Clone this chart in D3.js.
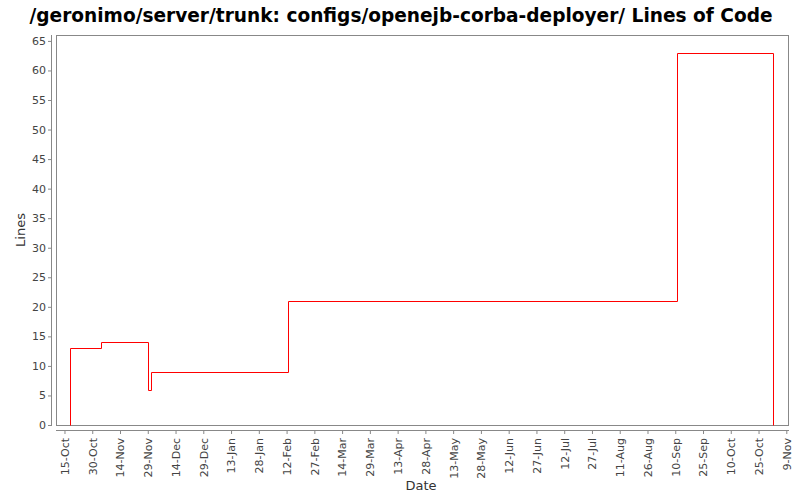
<!DOCTYPE html>
<html><head><meta charset="utf-8">
<script src="https://cdn.jsdelivr.net/npm/d3@7/dist/d3.min.js"></script>
<style>body{margin:0;background:#fff}svg{display:block}</style>
</head><body>
<svg id="c" width="800" height="500"></svg>
<script>
const title = "/geronimo/server/trunk: configs/openejb-corba-deployer/ Lines of Code";
const dates = ["2005-10-18","2005-11-04","2005-11-29","2005-12-01","2006-02-13","2006-09-11","2006-11-02"];
const lines = [13,14,6,9,21,63,0];
const yTicks = [0,5,10,15,20,25,30,35,40,45,50,55,60,65];
const xTickStart = "2005-10-15", xTickEnd = "2006-11-09", xTickStepDays = 15;

const parse = d3.timeParse("%Y-%m-%d");
const svg = d3.select("#c");
const L = 56, R = 788, T = 35, B = 425;
const x = d3.scaleTime().domain([new Date(2005,9,10,10), new Date(2006,10,9,22)]).range([L, R]);
const y = d3.scaleLinear().domain([0, 66]).range([B, T]);

svg.append("text").attr("x", 401).attr("y", 22).attr("text-anchor","middle")
  .attr("font-family","'DejaVu Sans Condensed','DejaVu Sans',sans-serif").attr("font-weight","bold")
  .attr("font-size", 20).attr("textLength", 743).attr("lengthAdjust","spacingAndGlyphs")
  .attr("fill","#000").text(title);

svg.append("rect").attr("x", L+0.5).attr("y", T+0.5).attr("width", R-L).attr("height", B-T)
  .attr("fill","#fff").attr("stroke","#888").attr("stroke-width",1);

const xTicks = d3.timeDay.every(1).range(parse(xTickStart), d3.timeDay.offset(parse(xTickEnd),1))
  .filter((d,i)=> i % xTickStepDays === 0);

const xAxis = d3.axisBottom(x).tickValues(xTicks).tickFormat(d3.timeFormat("%-d-%b")).tickSize(4).tickSizeOuter(0);
const gx = svg.append("g").attr("transform", `translate(0,${B+5})`).call(xAxis);
gx.select(".domain").attr("stroke","#888").attr("d", `M${L},0.5H${R+1}`);
gx.selectAll(".tick line").attr("stroke","#888");
gx.selectAll(".tick text").attr("font-family","'DejaVu Sans',sans-serif").attr("font-size",11).attr("fill","#444")
  .attr("transform","rotate(-90)").attr("text-anchor","end").attr("x",-8).attr("y",0).attr("dy","0.35em");

const yAxis = d3.axisLeft(y).tickValues(yTicks).tickSize(4).tickSizeOuter(0);
const gy = svg.append("g").attr("transform", `translate(${L-4},0)`).call(yAxis);
gy.select(".domain").attr("stroke","#888").attr("d", `M-0.5,${T}V${B+1}`);
gy.selectAll(".tick line").attr("stroke","#888");
gy.selectAll(".tick text").attr("font-family","'DejaVu Sans',sans-serif").attr("font-size",11).attr("fill","#444").attr("x",-6);

const px = v => Math.round(v) + 0.5;
const data = dates.map((d,i)=>({d: parse(d), v: lines[i]}));
const path = [[px(x(data[0].d)), px(y(0))]];
data.forEach((p,i)=>{
  if (i>0) path.push([px(x(p.d)), px(y(data[i-1].v))]);
  path.push([px(x(p.d)), px(y(p.v))]);
});
svg.append("path").attr("d", d3.line()(path)).attr("fill","none").attr("stroke","#ff0000").attr("stroke-width",1);

svg.append("text").attr("x", 421).attr("y", 490).attr("text-anchor","middle")
  .attr("font-family","'DejaVu Sans',sans-serif").attr("font-size",13).attr("fill","#333").text("Date");
svg.append("text").attr("transform","translate(25,230) rotate(-90)").attr("text-anchor","middle")
  .attr("font-family","'DejaVu Sans',sans-serif").attr("font-size",13).attr("fill","#333").text("Lines");
</script>
</body></html>
